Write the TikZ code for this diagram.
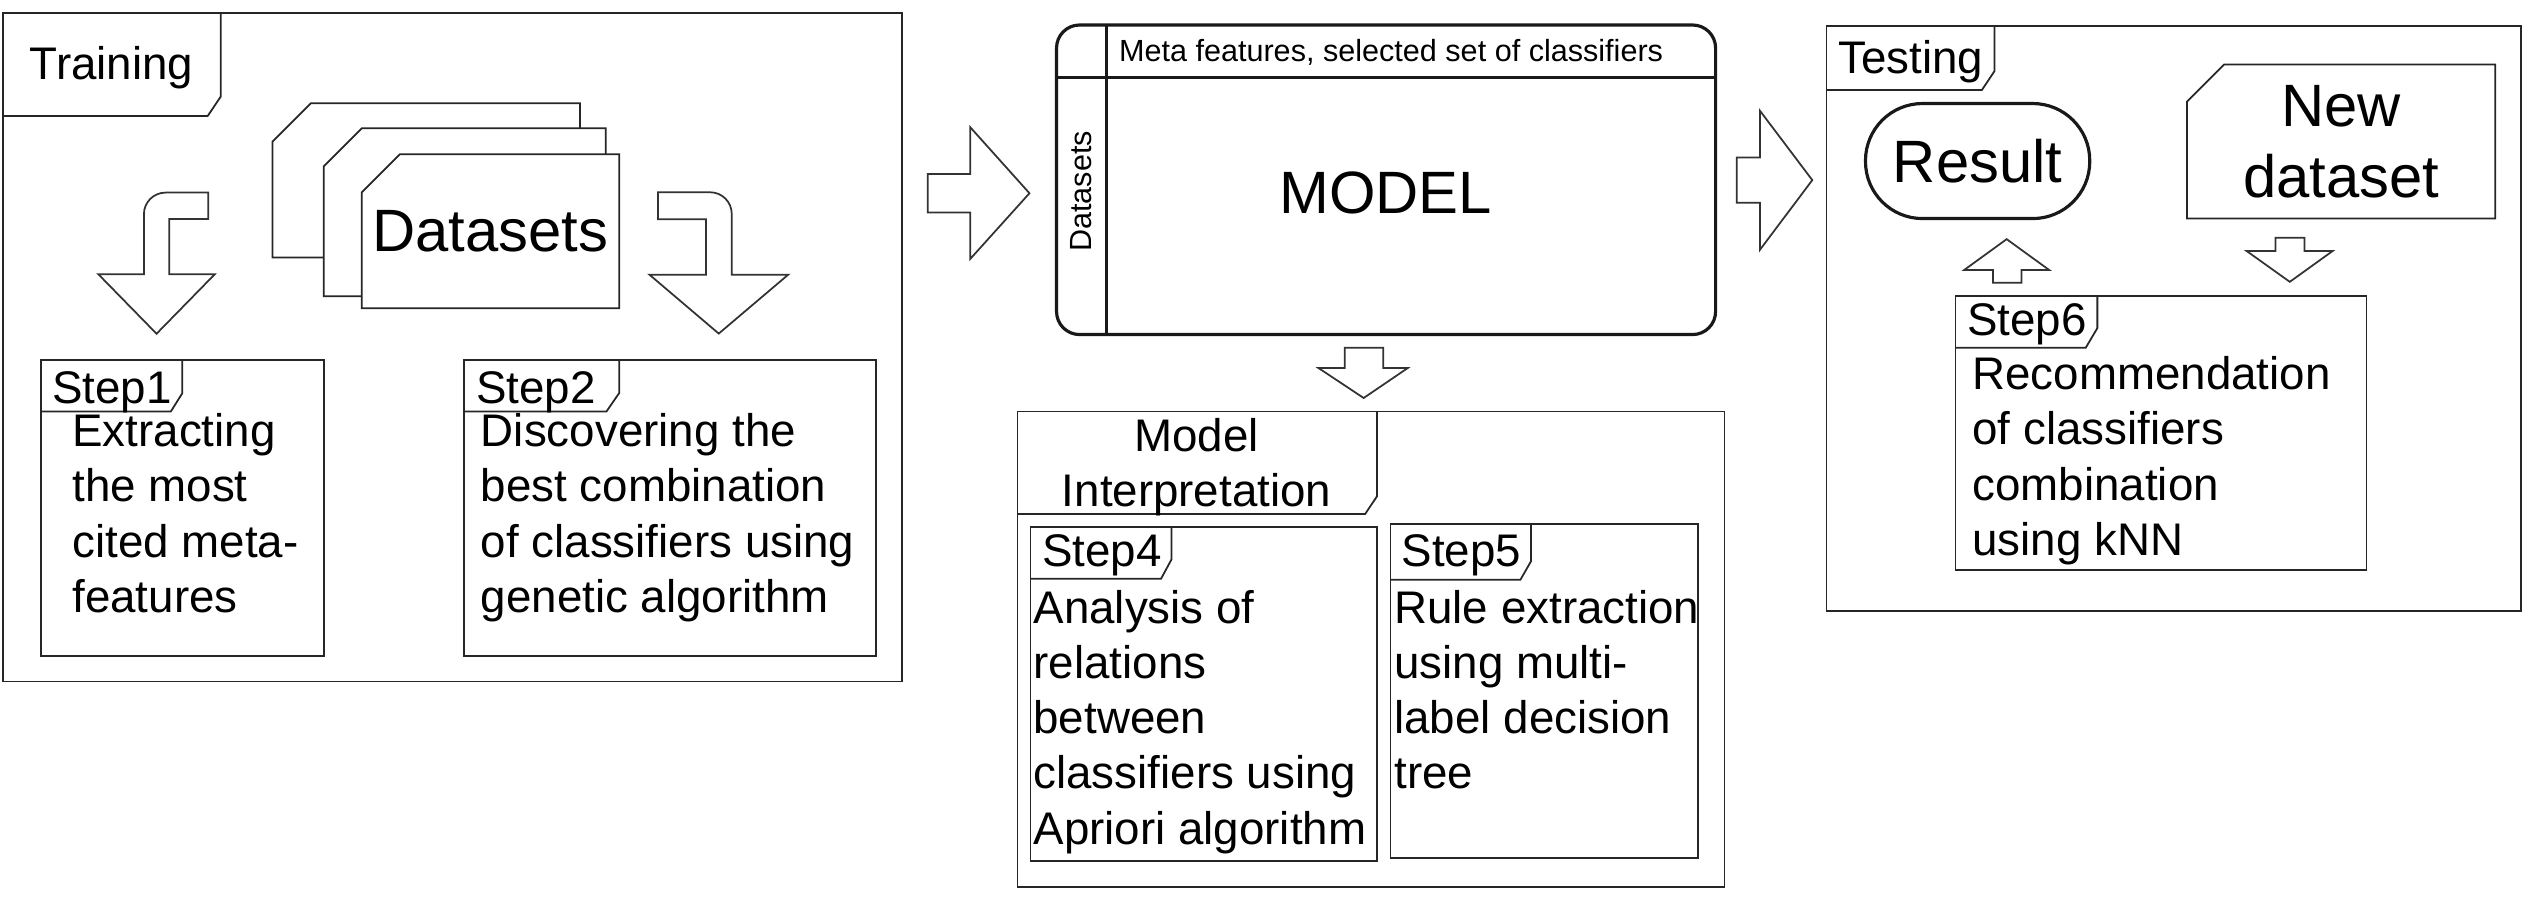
\documentclass[tikz,border=0pt]{standalone}
\usepackage{fontspec}
\setmainfont{Liberation Sans}
\tikzset{
  box/.style={draw=black!85, line width=0.5pt},
  blockarrow/.style={draw=black!80, line width=0.5pt, fill=white},
  txt/.style={inner sep=0pt, anchor=base west, align=left, font=\fontsize{13}{15.7}\selectfont},
  bigtxt/.style={inner sep=0pt, font=\fontsize{17}{20.2}\selectfont},
  smalltxt/.style={inner sep=0pt, font=\fontsize{8.7}{10.4}\selectfont}
}

\begin{document}
\begin{tikzpicture}[x=0.016224cm, y=-0.016224cm]
   \useasboundingbox (0,0) rectangle (1568,555);

   % training (multi-line nodes sit on the baseline of their last line)
   \draw[box] (2,8) rectangle (556,420);
   \draw[box] (2,71.5) -- (128,71.5) -- (136,59.6) -- (136,8);
   \node[txt] (training) at (18,49) {Training};
   \filldraw[box, fill=white] (168+23.5,63.7) -- (357.5,63.7) -- (357.5,158.7) -- (168,158.7) -- (168,63.7+23.5) -- cycle;
   \filldraw[box, fill=white] (199.6+23.5,79) -- (373.4,79) -- (373.4,182.6) -- (199.6,182.6) -- (199.6,79+23.5) -- cycle;
   \filldraw[box, fill=white] (223+23.5,95) -- (381.6,95) -- (381.6,190) -- (223,190) -- (223,95+23.5) -- cycle;
   \node[bigtxt, anchor=base west] (datasets) at (229,155) {Datasets};
   \draw[blockarrow] (128.3,134.9) -- (128.3,118.7) [rounded corners=0.216cm] -- (88.7,118.7) -- (88.7,150) [sharp corners] -- (88.7,169) -- (60.6,169) -- (96.5,205.7) -- (132.4,169) -- (104.3,169) -- (104.3,134.9) -- cycle;
   \draw[blockarrow] (405.6,135.2) -- (405.6,118.5) [rounded corners=0.216cm] -- (451,118.5) -- (451,150) [sharp corners] -- (451,169.3) -- (485.8,169.3) -- (443,205.6) -- (400.3,169.3) -- (435.2,169.3) -- (435.2,135.2) -- cycle;

   \draw[box] (25.4,221.7) rectangle (199.6,404.1);
   \draw[box] (25.4,253.6) -- (105.3,253.6) -- (112.4,242.3) -- (112.4,221.7);
   \node[txt] (step1) at (31.8,248.4) {Step1};
   \node[txt] (step1txt) at (44.2,377.4) {Extracting\\the most\\cited meta-\\features};

   \draw[box] (286.2,221.7) rectangle (539.8,404.1);
   \draw[box] (286.2,253.6) -- (373.8,253.6) -- (381.6,242.3) -- (381.6,221.7);
   \node[txt] (step2) at (293,248.4) {Step2};
   \node[txt] (step2txt) at (296,377.4) {Discovering the\\best combination\\of classifiers using\\genetic algorithm};

   \draw[blockarrow] (571.8,107.2) -- (598,107.2) -- (598,78.4) -- (634.5,119.1) -- (598,159.6) -- (598,131) -- (571.8,131) -- cycle;

   % model
   \draw[draw=black!90, line width=0.9pt, rounded corners=0.23cm] (651.2,15.4) rectangle (1057.4,206.2);
   \draw[draw=black!90, line width=0.9pt] (681.9,15.4) -- (681.9,206.2);
   \draw[draw=black!90, line width=0.9pt] (651.2,47.9) -- (1057.4,47.9);
   \node[smalltxt, anchor=base west] (header) at (689.3,38) {Meta features, selected set of classifiers};
   \node[smalltxt, rotate=90] (dsetcol) at (666.3,118) {Datasets};
   \node[bigtxt, anchor=base] (model) at (854,131.6) {MODEL};

   \draw[blockarrow] (828.9,214.4) -- (852.5,214.4) -- (852.5,226.8) -- (867.7,226.8) -- (840.5,245.3) -- (812.6,226.8) -- (828.9,226.8) -- cycle;

   % interpretation
   \draw[box] (627.2,253.6) rectangle (1062.9,546.5);
   \draw[box] (627.2,316.8) -- (841.4,316.8) -- (848.7,305.9) -- (848.7,253.6);
   \node[txt, anchor=base, align=center] (interp) at (737.5,312.3) {Model\\Interpretation};

   \draw[box] (635.1,325) rectangle (848.7,530.8);
   \draw[box] (635.1,356.7) -- (715.6,356.7) -- (722,344.9) -- (722,325);
   \node[txt] (step4) at (642,349) {Step4};
   \node[txt] (step4txt) at (636.6,520.3) {Analysis of\\relations\\between\\classifiers using\\Apriori algorithm};

   \draw[box] (857,322.8) rectangle (1046.7,528.7);
   \draw[box] (857,357.3) -- (937.1,357.3) -- (943.6,346) -- (943.6,322.8);
   \node[txt] (step5) at (863.5,349) {Step5};
   \node[txt] (step5txt) at (859,486.2) {Rule extraction\\using multi-\\label decision\\tree};

   \draw[blockarrow] (1070.5,97) -- (1084.7,97) -- (1084.7,68.2) -- (1117,111) -- (1084.7,154) -- (1084.7,125) -- (1070.5,125) -- cycle;

   % testing
   \draw[box] (1125.7,15.8) rectangle (1553.8,376.4);
   \draw[box] (1125.7,55.5) -- (1221.5,55.5) -- (1229.3,43.8) -- (1229.3,15.8);
   \node[txt] (testing) at (1132.6,45) {Testing};

   \node[bigtxt, draw=black!90, line width=0.9pt, rounded corners=0.57cm, minimum width=2.242cm, minimum height=1.15cm] (result) at (1218.9,99.25) {Result};

   \draw[box] (1347.9+23,39.7) -- (1537.9,39.7) -- (1537.9,134.7) -- (1347.9,134.7) -- (1347.9,39.7+23) -- cycle;
   \node[bigtxt, anchor=base, align=center] (newdata) at (1443,121.9) {New\\dataset};

   \draw[blockarrow] (1228.4,174.2) -- (1228.4,166.4) -- (1210.6,166.4) -- (1236.8,147.4) -- (1263,166.4) -- (1245.9,166.4) -- (1245.9,174.2) -- cycle;
   \draw[blockarrow] (1402.5,146.6) -- (1420.3,146.6) -- (1420.3,154.7) -- (1437.7,154.7) -- (1411.3,173.7) -- (1384.7,154.7) -- (1402.5,154.7) -- cycle;

   \draw[box] (1205.3,182.2) rectangle (1458.6,351.5);
   \draw[box] (1205.3,214.4) -- (1285.5,214.4) -- (1292.7,202.2) -- (1292.7,182.2);
   \node[txt] (step6) at (1212,207) {Step6};
   \node[txt] (step6txt) at (1215.3,342.3) {Recommendation\\of classifiers\\combination\\using kNN};
\end{tikzpicture}
\end{document}
